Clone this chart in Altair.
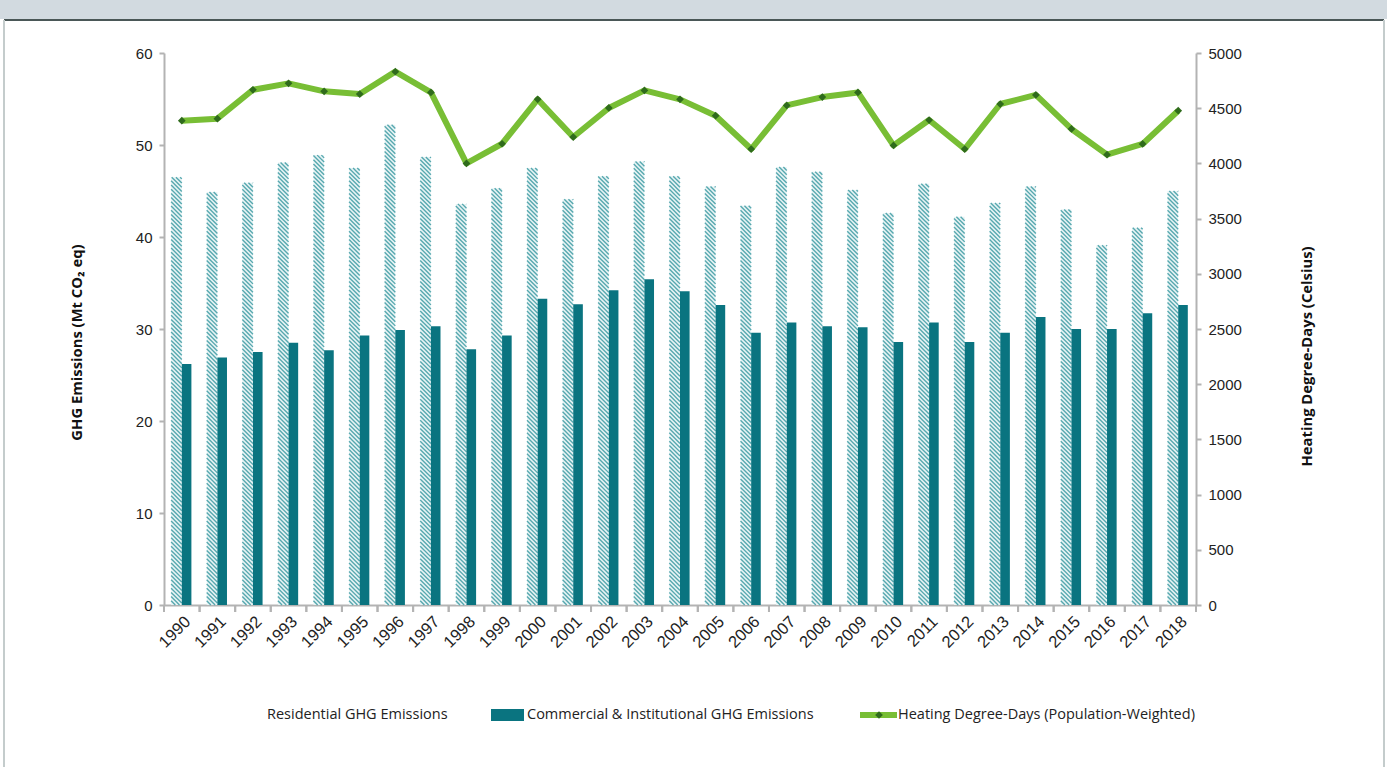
import altair as alt
import pandas as pd

years = list(range(1990, 2019))
residential = [46.5, 44.9, 45.9, 48.1, 48.9, 47.5, 52.2, 48.7, 43.6, 45.3,
               47.5, 44.1, 46.6, 48.2, 46.6, 45.5, 43.4, 47.6, 47.1, 45.1,
               42.6, 45.8, 42.2, 43.7, 45.5, 43.0, 39.1, 41.0, 45.0]
commercial = [26.2, 26.9, 27.5, 28.5, 27.7, 29.3, 29.9, 30.3, 27.8, 29.3,
              33.3, 32.7, 34.2, 35.4, 34.1, 32.6, 29.6, 30.7, 30.3, 30.2,
              28.6, 30.7, 28.6, 29.6, 31.3, 30.0, 30.0, 31.7, 32.6]
hdd = [4387, 4405, 4667, 4725, 4653, 4628, 4831, 4643, 4000, 4178,
       4580, 4239, 4502, 4661, 4580, 4432, 4130, 4525, 4601, 4643,
       4163, 4393, 4130, 4538, 4620, 4312, 4079, 4176, 4477]

legend_labels = ["Residential GHG Emissions",
                 "Commercial & Institutional GHG Emissions",
                 "Heating Degree-Days (Population-Weighted)"]

df = pd.DataFrame({"year": years, "res": residential, "com": commercial, "hdd": hdd})

W, H = 1032, 552
PAD_L, PAD_T = 164, 53
STEP_PX = W / 29
PX_PER_UNIT = H / 60
S = STEP_PX / PX_PER_UNIT      # y-units per year along a 45 deg stripe
D = 4.2 / PX_PER_UNIT          # vertical stripe spacing in y-units
RW = 0.30                      # residential bar width (years)
CW = 0.27                      # commercial bar width (years)

TEAL = "#0a7480"
GREEN = "#78be35"
DKGREEN = "#2f6b1c"
AXC = "#b3b3b3"
FONT = "Liberation Sans"
TFONT = "Open Sans"

xscale = alt.Scale(domain=[1989.5, 2018.5], nice=False, zero=False)
yl = alt.Scale(domain=[0, 60], nice=False)
yr = alt.Scale(domain=[0, 5000], nice=False)

base = alt.Chart(df)

x_axis = alt.Axis(values=years, format="d", labelAngle=-45, ticks=False,
                  labelPadding=8, labelFontSize=16.5, labelColor="#222222",
                  labelFont=FONT, domainColor=AXC, domainWidth=2,
                  labelOverlap=False, labelFlush=False, title=None, grid=False)

yl_axis = alt.Axis(values=list(range(0, 61, 10)), format="d",
                   title="GHG Emissions (Mt CO₂ eq)", titleFont=TFONT,
                   titleFontWeight="bold", titleFontSize=14.8, titleColor="#111111",
                   titleX=-87, titleY=289, titleAngle=270, titleAlign="center",
                   titleBaseline="middle",
                   domainColor=AXC, domainWidth=2, tickColor=AXC, tickWidth=2,
                   tickSize=5, labelFontSize=15, labelPadding=7, labelColor="#222222",
                   labelFont=FONT, grid=False)

yr_axis = alt.Axis(orient="right", values=list(range(0, 5001, 500)), format="d",
                   title="Heating Degree-Days (Celsius)", titleFont=TFONT,
                   titleFontWeight="bold", titleFontSize=14.8, titleColor="#111111",
                   titleX=111, titleY=303, titleAngle=270, titleAlign="center",
                   titleBaseline="middle",
                   domainColor=AXC, domainWidth=2, tickColor=AXC, tickWidth=2,
                   tickSize=5, labelFontSize=15, labelPadding=7, labelColor="#222222",
                   labelFont=FONT, grid=False)


def X(field):
    return alt.X(field, scale=xscale, axis=x_axis)


def YL(field):
    return alt.Y(field, scale=yl, axis=yl_axis)


res_bar = base.transform_calculate(x0=f"datum.year - {RW}", z="0").mark_rect(
    color="#e8f4f5").encode(
    x=X("x0:Q"), x2="year:Q", y=YL("res:Q"), y2="z:Q")

hatch = base.transform_calculate(
    n=f"ceil((datum.res + {RW * S}) / {D})"
).transform_calculate(
    k="sequence(1, datum.n)"
).transform_flatten(["k"]).transform_calculate(
    c=f"datum.k * {D}"
).transform_calculate(
    hx1=f"datum.year - {RW} + max(0, datum.c - datum.res) / {S}",
    hy1="min(datum.c, datum.res)",
    hx2=f"min(datum.year, datum.year - {RW} + datum.c / {S})",
    hy2=f"max(0, datum.c - {RW * S})",
).transform_filter("datum.hx2 > datum.hx1 + 0.002").mark_rule(
    color="#57a8af", strokeWidth=1.4).encode(
    x=X("hx1:Q"), x2="hx2:Q", y=YL("hy1:Q"), y2="hy2:Q")

com_bar = base.transform_calculate(x1=f"datum.year + {CW}", z="0").mark_rect(
    color=TEAL).encode(
    x=X("year:Q"), x2="x1:Q", y=YL("com:Q"), y2="z:Q")

tick_l = base.transform_calculate(b="datum.year - 0.5").mark_rule(
    color=AXC, strokeWidth=2).encode(
    x=X("b:Q"), y=alt.value(H), y2=alt.value(H + 7))
tick_r = base.transform_calculate(b="datum.year + 0.5").mark_rule(
    color=AXC, strokeWidth=2).encode(
    x=X("b:Q"), y=alt.value(H), y2=alt.value(H + 7))

line = base.mark_line(color=GREEN, strokeWidth=6, strokeJoin="round").encode(
    x=X("year:Q"),
    y=alt.Y("hdd:Q", scale=yr, axis=yr_axis),
)
pts = base.mark_point(shape="diamond", filled=True, size=60, color=DKGREEN,
                      opacity=1).encode(
    x=X("year:Q"),
    y=alt.Y("hdd:Q", scale=yr, axis=yr_axis),
)

# frame decoration
one = alt.Chart(pd.DataFrame({"d": [0]}))
top_band = one.mark_rect(color="#d2dae0").encode(
    x=alt.value(-PAD_L), x2=alt.value(1387 - PAD_L),
    y=alt.value(-PAD_T), y2=alt.value(-PAD_T + 19))
top_line = one.mark_rule(color="#4a5757", strokeWidth=2).encode(
    x=alt.value(-PAD_L + 4), x2=alt.value(1387 - PAD_L - 3),
    y=alt.value(-PAD_T + 20))
left_line = one.mark_rule(color="#c4cccc", strokeWidth=2).encode(
    x=alt.value(-PAD_L + 4), y=alt.value(-PAD_T + 20), y2=alt.value(767 - PAD_T))
right_line = one.mark_rule(color="#c4cccc", strokeWidth=2).encode(
    x=alt.value(1387 - PAD_L - 3), y=alt.value(-PAD_T + 20), y2=alt.value(767 - PAD_T))

# legend
LY = 715 - PAD_T
LFS = 14.5
leg_t1 = one.mark_text(align="left", baseline="middle", font=TFONT, fontSize=LFS,
                       color="#222222").encode(
    x=alt.value(267 - PAD_L), y=alt.value(LY), text=alt.value(legend_labels[0]))
leg_r2 = one.mark_rect(color=TEAL).encode(
    x=alt.value(491 - PAD_L), x2=alt.value(524 - PAD_L),
    y=alt.value(LY - 6), y2=alt.value(LY + 6))
leg_t2 = one.mark_text(align="left", baseline="middle", font=TFONT, fontSize=LFS,
                       color="#222222").encode(
    x=alt.value(527 - PAD_L), y=alt.value(LY), text=alt.value(legend_labels[1]))
leg_l3 = one.mark_rule(color=GREEN, strokeWidth=6).encode(
    x=alt.value(860 - PAD_L), x2=alt.value(897 - PAD_L), y=alt.value(LY))
leg_p3 = one.mark_point(shape="diamond", filled=True, size=60, color=DKGREEN,
                        opacity=1).encode(x=alt.value(879 - PAD_L), y=alt.value(LY))
leg_t3 = one.mark_text(align="left", baseline="middle", font=TFONT, fontSize=LFS,
                       color="#222222").encode(
    x=alt.value(898 - PAD_L), y=alt.value(LY), text=alt.value(legend_labels[2]))

left = alt.layer(top_band, top_line, left_line, right_line,
                 res_bar, hatch, com_bar, tick_l, tick_r,
                 leg_t1, leg_r2, leg_t2, leg_l3, leg_p3, leg_t3)
right = alt.layer(line, pts)

chart = alt.layer(left, right).resolve_scale(y="independent").properties(
    width=W, height=H,
    padding={"left": PAD_L, "top": PAD_T, "right": 1387 - PAD_L - W,
             "bottom": 767 - PAD_T - H},
    autosize=alt.AutoSizeParams(type="none"),
    background="white",
).configure_view(stroke=None)

chart.save("out.html", embed_options={"renderer": "svg", "actions": False})
